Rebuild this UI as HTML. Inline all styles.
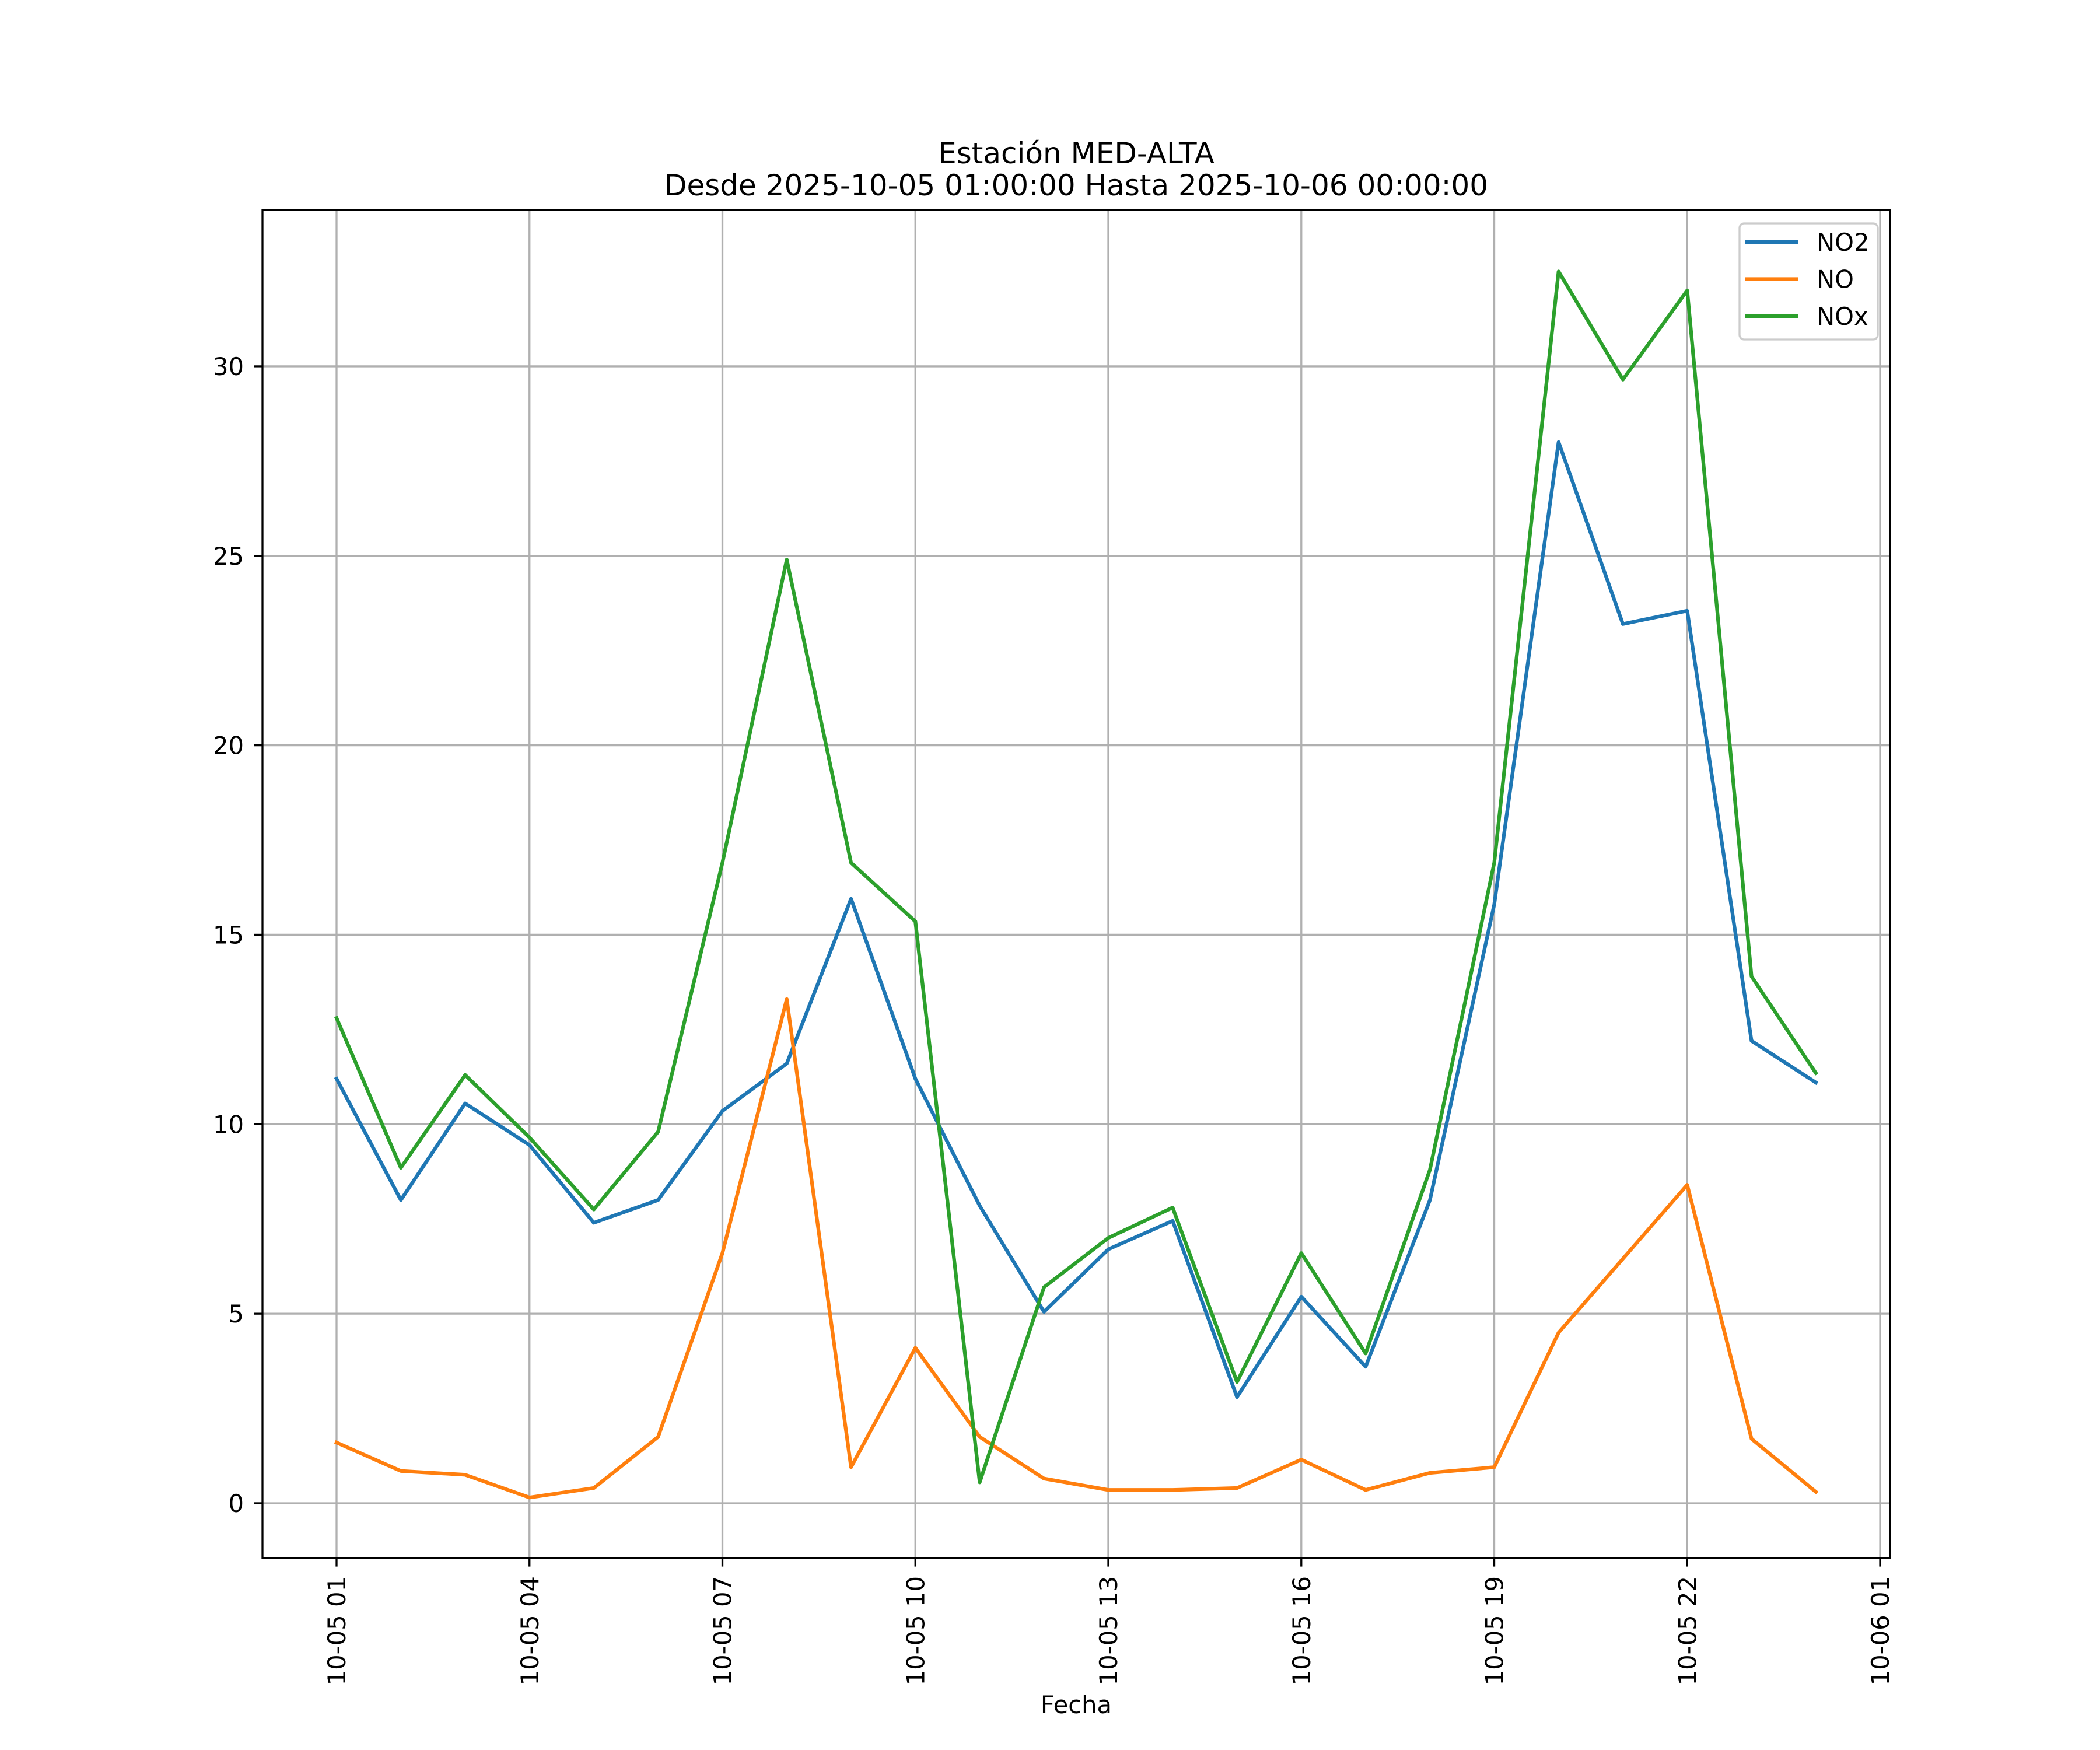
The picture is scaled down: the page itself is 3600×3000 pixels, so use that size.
<!DOCTYPE html>
<html><head><meta charset="utf-8"><style>html,body{margin:0;padding:0;background:#fff}svg{display:block}text{font-family:"DejaVu Sans","Liberation Sans",sans-serif}</style></head>
<body>
<svg id="chart" width="3600" height="3000" viewBox="0 0 3600 3000" xmlns="http://www.w3.org/2000/svg">
<rect width="3600" height="3000" fill="#fff"/>
<g id="grid"></g>
<g id="series"></g>
<rect x="450" y="360" width="2790" height="2311" fill="none" stroke="#000" stroke-width="3.3"/>
<g id="ticks"></g>
<text x="1845" y="280" font-size="50" text-anchor="middle">Estación MED-ALTA</text>
<text x="1845" y="335" font-size="50" text-anchor="middle">Desde 2025-10-05 01:00:00 Hasta 2025-10-06 00:00:00</text>
<text x="1845" y="2937" font-size="41.7" text-anchor="middle">Fecha</text>
<g id="legend">
<rect x="2982" y="383" width="237" height="199" rx="8" fill="#fff" fill-opacity="0.8" stroke="#cccccc" stroke-width="3.3"/>
</g>
</svg>
<script>
const hours = [1,2,3,4,5,6,7,8,9,10,11,12,13,14,15,16,17,18,19,20,21,22,23,24];
const no2 = [11.2,8.0,10.55,9.45,7.4,8.0,10.35,11.6,15.95,11.2,7.85,5.05,6.7,7.45,2.8,5.45,3.6,8.0,15.8,28.0,23.2,23.55,12.2,11.1];
const no = [1.6,0.85,0.75,0.15,0.4,1.75,6.6,13.3,0.95,4.1,1.75,0.65,0.35,0.35,0.4,1.15,0.35,0.8,0.95,4.5,6.45,8.4,1.7,0.3];
const nox = [12.8,8.85,11.3,9.65,7.75,9.8,16.9,24.9,16.9,15.35,0.55,5.7,7.0,7.8,3.2,6.6,3.95,8.8,16.9,32.5,29.65,32.0,13.9,11.35];
const yTicks = [0,5,10,15,20,25,30];
const xTicks = [1,4,7,10,13,16,19,22,25];
const xTickLabels = ["10-05 01","10-05 04","10-05 07","10-05 10","10-05 13","10-05 16","10-05 19","10-05 22","10-06 01"];
const seriesNames = ["NO2","NO","NOx"];
const seriesColors = ["#1f77b4","#ff7f0e","#2ca02c"];

const NS="http://www.w3.org/2000/svg";
const X0=450,X1=3240,Y0=2671,Y1=360;
const xmin=-0.152,xmax=25.154,ymin=-1.447,ymax=34.124;
const sx=h=>X0+(h-xmin)/(xmax-xmin)*(X1-X0);
const sy=v=>Y0-(v-ymin)/(ymax-ymin)*(Y0-Y1);
function mk(tag,attrs,parent){const e=document.createElementNS(NS,tag);for(const k in attrs)e.setAttribute(k,attrs[k]);parent.appendChild(e);return e;}
const grid=document.getElementById('grid'),ticks=document.getElementById('ticks'),ser=document.getElementById('series'),leg=document.getElementById('legend');
yTicks.forEach(v=>{const y=sy(v);
 const g=mk('line',{x1:X0,x2:X1,y1:y,y2:y,stroke:'#b0b0b0','stroke-width':3.3},grid);
 
 const t=mk('line',{x1:X0-14.6,x2:X0,y1:y,y2:y,stroke:'#000','stroke-width':3.3},ticks);
 
 const l=mk('text',{x:418,y:y+15,'font-size':41.7,'text-anchor':'end'},ticks);l.textContent=v;
 
});
xTicks.forEach((h,i)=>{const x=sx(h);
 const g=mk('line',{x1:x,x2:x,y1:Y1,y2:Y0,stroke:'#b0b0b0','stroke-width':3.3},grid);
 
 const t=mk('line',{x1:x,x2:x,y1:Y0,y2:Y0+14.6,stroke:'#000','stroke-width':3.3},ticks);
 
 const l=mk('text',{x:0,y:0,'font-size':41.7,'text-anchor':'end',transform:`translate(${x+15},${2702}) rotate(-90)`},ticks);l.textContent=xTickLabels[i];
 
});
[no2,no,nox].forEach((d,k)=>{
 const p=mk('polyline',{points:d.map((v,i)=>sx(hours[i])+','+sy(v)).join(' '),fill:'none',stroke:seriesColors[k],'stroke-width':6.25,'stroke-linejoin':'round','stroke-linecap':'square'},ser);
 
 
 const ly=415+k*63.5;
 const ll=mk('line',{x1:2992,x2:3082,y1:ly,y2:ly,stroke:seriesColors[k],'stroke-width':6.25},leg);
 
 const lt=mk('text',{x:3114,y:ly+15,'font-size':41.7},leg);lt.textContent=seriesNames[k];
 
});
</script>
</body></html>
